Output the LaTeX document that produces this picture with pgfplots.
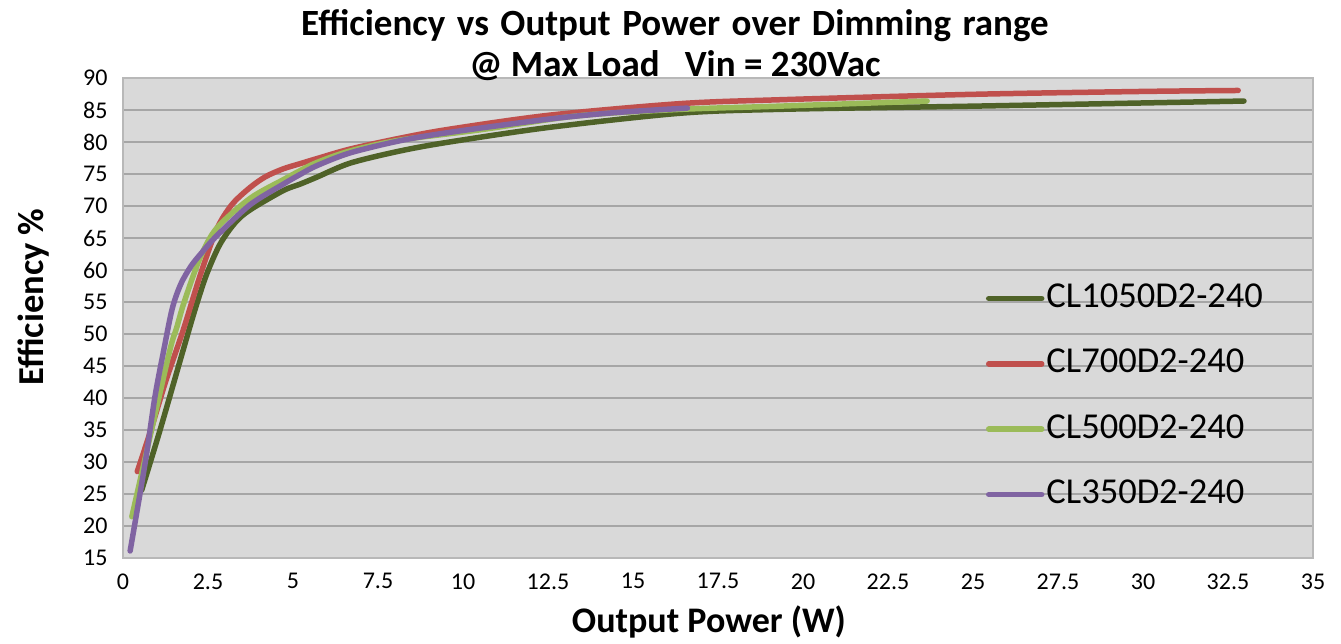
\documentclass[border=0pt]{standalone}
\usepackage{pgfplots}
\pgfplotsset{compat=1.18}
\usepackage{fontspec}
\setmainfont{Carlito}
\definecolor{cDk}{HTML}{4F6228}
\definecolor{cRed}{HTML}{C0504D}
\definecolor{cGrn}{HTML}{9BBB59}
\definecolor{cPur}{HTML}{8064A2}
\definecolor{cBg}{HTML}{D9D9D9}
\definecolor{cGrid}{HTML}{A6A6A6}
\definecolor{cBorder}{HTML}{B8B8B8}
\begin{document}
\begin{tikzpicture}
\begin{axis}[
  at={(0pt,0pt)}, anchor=south west,
  scale only axis, width=1190pt, height=480pt,
  xmin=0, xmax=35, ymin=15, ymax=90,
  xtick={0,2.5,5,7.5,10,12.5,15,17.5,20,22.5,25,27.5,30,32.5,35},
  xticklabels={0,2.5,5,7.5,10,12.5,15,17.5,20,22.5,25,27.5,30,32.5,35},
  ytick={15,20,25,30,35,40,45,50,55,60,65,70,75,80,85,90},
  yticklabels={15,20,25,30,35,40,45,50,55,60,65,70,75,80,85,90},
  /pgf/number format/assume math mode=true,
  ymajorgrids,
  major grid style={draw=cGrid, line width=2.2pt},
  major tick length=0pt,
  axis background/.style={fill=cBg},
  axis line style={draw=cBorder, line width=1.5pt},
  tick label style={font=\fontsize{24}{28}\selectfont},
  xticklabel style={yshift=-12pt},
  yticklabel style={xshift=-12pt},
  xlabel={Output Power (W)},
  ylabel={Efficiency \%},
  xlabel style={at={(axis description cs:0.4924,-0.1542)}, anchor=base, font=\fontsize{36}{40}\bfseries\selectfont},
  ylabel style={at={(axis description cs:-0.0672,0.5438)}, anchor=base, font=\fontsize{36.5}{40}\bfseries\selectfont},
  legend cell align=left,
  legend image code/.code={\draw[#1, line width=5.5pt, line cap=round] (0pt,-3pt) -- (53pt,-3pt);},
  legend style={draw=none, fill=none, at={(axis description cs:0.7252,0.5717)}, anchor=north west,
    font=\fontsize{36.5}{40}\selectfont, row sep=41.3pt, inner sep=0pt, outer sep=0pt,
    nodes={inner sep=0pt, text height=24pt, text depth=0pt},
    /tikz/every odd column/.append style={column sep=2pt}},
  every axis plot/.append style={line width=5.5pt, smooth, tension=0.5, line cap=round, line join=round},
]
\addplot[cDk] coordinates {
(0.55,25.6) (1.09,35) (1.77,47.5) (2.1,53.5) (2.45,59.2) (2.85,64.0) (3.3,67.4) (3.74,69.4)
(4.71,72.4) (5.2,73.4) (5.7,74.5) (6.68,76.7) (8.15,78.6) (9.6,80.0) (12.56,82.3)
(16.4,84.5) (19.3,85.1) (25,85.6) (30,86.1) (32.97,86.4)};
\addlegendentry{CL1050D2-240}
\addplot[cRed] coordinates {
(0.42,28.5) (0.82,35) (1.25,42.5) (1.77,50.6) (2.26,59.0) (2.75,66.3) (3.2,70.2) (3.74,72.9)
(4.2,74.6) (4.71,75.8) (5.2,76.6) (5.7,77.4) (6.68,78.9) (8.15,80.6) (9.6,82.0) (12.56,84.2)
(16.4,86.0) (19.3,86.6) (25,87.45) (30,87.9) (32.8,88.05)};
\addlegendentry{CL700D2-240}
\addplot[cGrn] coordinates {
(0.26,21.45) (0.84,35) (1.38,47.5) (1.58,51.0) (1.8,55.0) (2.26,61.8) (2.75,66.5)
(3.74,71.2) (4.71,74.1) (5.2,75.5) (5.7,76.8) (6.68,78.6) (8.15,80.3) (10.5,81.9)
(13.4,84.1) (16.4,85.1) (19.3,85.6) (23.65,86.4)};
\addlegendentry{CL500D2-240}
\addplot[cPur] coordinates {
(0.21,16.1) (0.65,29.8) (0.94,40.2) (1.2,47.5) (1.45,54) (1.7,57.8) (2.0,60.6) (2.3,62.6)
(2.75,65.3) (3.74,70.2) (4.71,73.4) (5.2,74.9) (5.7,76.3) (6.68,78.3) (8.15,80.2)
(9.6,81.5) (12.56,83.6) (14.5,84.6) (16.6,85.3)};
\addlegendentry{CL350D2-240}
\end{axis}
\node[font=\fontsize{37}{40}\bfseries\selectfont, anchor=base] at (552pt,522pt) {\spaceskip=11.5pt plus 2pt Efficiency vs Output Power over Dimming range};
\node[font=\fontsize{37}{40}\bfseries\selectfont, anchor=base] at (552pt,481pt) {@ Max Load\ \ \ Vin = 230Vac};
\path[use as bounding box] (-123pt,-85pt) rectangle (1218pt,558pt);
\end{tikzpicture}
\end{document}
